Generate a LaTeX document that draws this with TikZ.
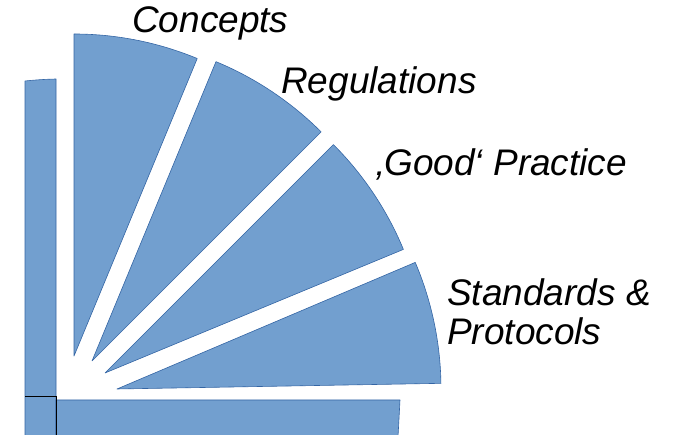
\documentclass[tikz,border=0pt]{standalone}
\usepackage{fontspec}
\setmainfont{Liberation Sans}
\definecolor{wfill}{HTML}{729FCF}
\definecolor{wline}{HTML}{3465A4}
\begin{document}
\begin{tikzpicture}[x=1pt,y=1pt,
  wedge/.style={fill=wfill,draw=wline,line width=0.6pt,line join=round},
  lbl/.style={anchor=base west,inner sep=0pt,font=\fontsize{37}{39}\selectfont\itshape}]
\useasboundingbox (0,0) rectangle (675,435);
% bars
\path[wedge] (25,-2) -- (25,354) to[bend left=2] (56,356) -- (56,-2) -- cycle;
\path[wedge] (56,-2) -- (56,35) -- (400,35) -- (398,-2) -- cycle;
\draw[black,line width=0.7pt] (25,39) -- (56,39) -- (56,-2);
% wedges
\coordinate (c1) at (74,79);
\coordinate (c2) at (92,74);
\coordinate (c3) at (105,62);
\coordinate (c4) at (117,46);
\path[wedge] (c1) -- ++(67.5:322) arc[start angle=67.5,end angle=90,radius=322] -- cycle;
\path[wedge] (c2) -- ++(45:324) arc[start angle=45,end angle=67.5,radius=324] -- cycle;
\path[wedge] (c3) -- ++(22.5:323) arc[start angle=22.5,end angle=45,radius=323] -- cycle;
\path[wedge] (c4) -- ++(1:324) arc[start angle=1,end angle=23,radius=324] -- cycle;
% labels
\node[lbl] (t1) at (132,402) {Concepts};
\node[lbl] (t2) at (281,341) {Regulations};
\node[lbl] (t3) at (376,259) {‚Good‘ Practice};
\node[lbl] (t4) at (447,129) {Standards \&};
\node[lbl] (t5) at (447,90) {Protocols};
\end{tikzpicture}
\end{document}
